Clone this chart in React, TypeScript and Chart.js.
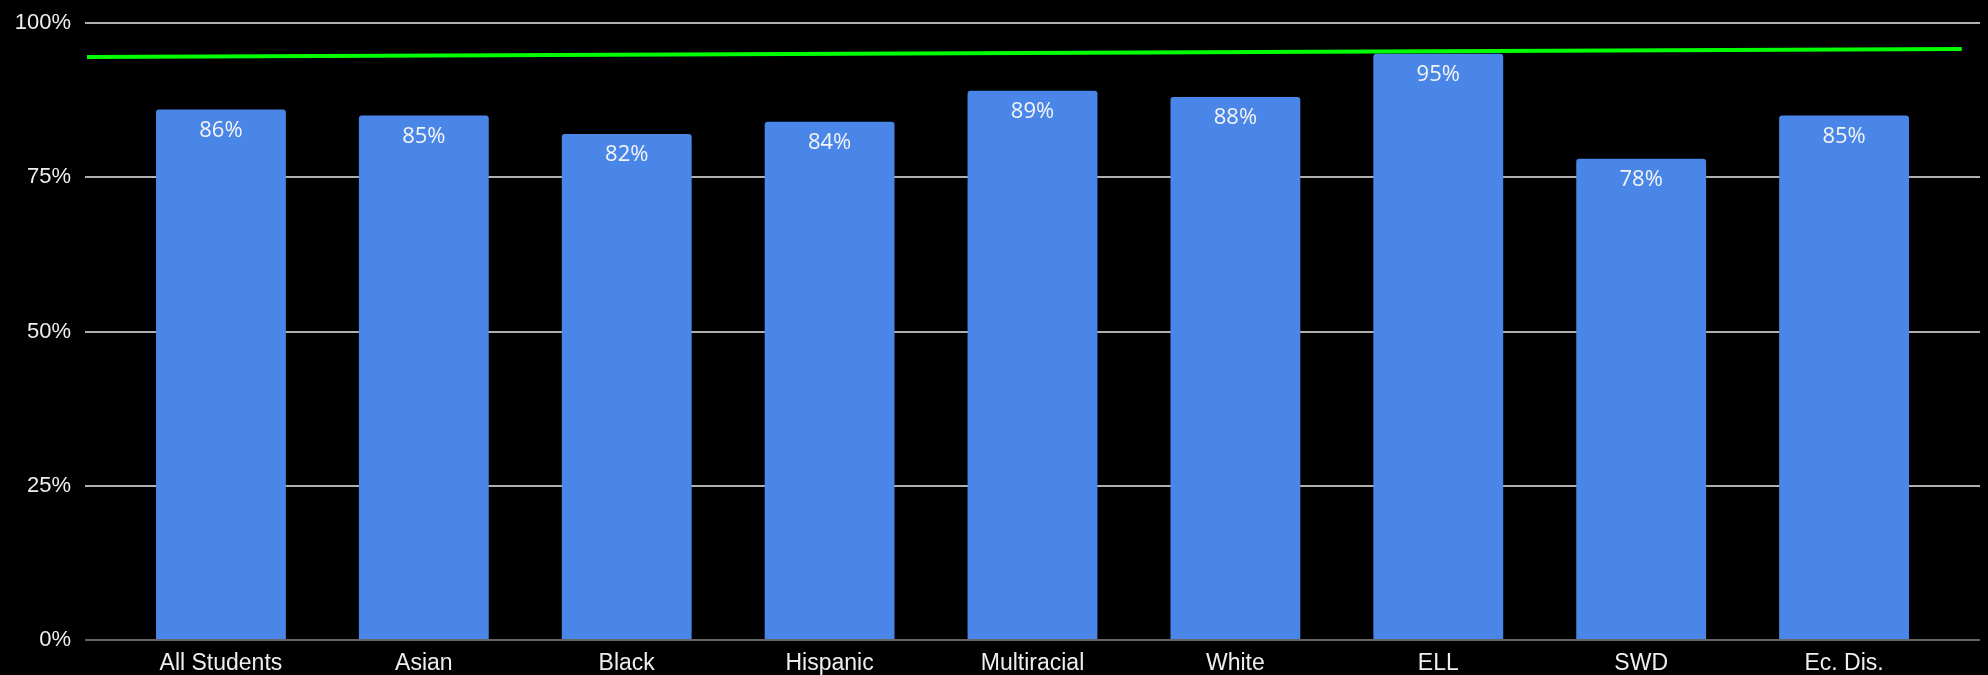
import React, { useEffect, useRef } from "react";
import { Chart, registerables } from "chart.js";

Chart.register(...registerables);

const categories = ["All Students", "Asian", "Black", "Hispanic", "Multiracial", "White", "ELL", "SWD", "Ec. Dis."];
const values = [86, 85, 82, 84, 89, 88, 95, 78, 85];
const targetX = [-0.66, 8.58];
const targetY = [94.5, 95.8];
const yTicks = [0, 25, 50, 75, 100];

const labelPlugin = {
  id: "barLabels",
  afterDatasetsDraw(chart: any) {
    const meta = chart.getDatasetMeta(1);
    const ctx = chart.ctx;
    ctx.save();
    ctx.fillStyle = "#f4f4f4";
    ctx.font = "22px 'Open Sans', Roboto, 'Liberation Sans', Arial, sans-serif";
    ctx.textAlign = "center";
    ctx.textBaseline = "middle";
    meta.data.forEach((bar: any, i: number) => {
      ctx.fillText(values[i] + "%", bar.x, bar.y + 21);
    });
    ctx.restore();
  },
};

export default function App() {
  const ref = useRef<HTMLCanvasElement>(null);
  useEffect(() => {
    if (!ref.current) return;
    const chart = new Chart(ref.current, {
      type: "bar",
      data: {
        datasets: [
          {
            type: "line",
            data: targetX.map((x, i) => ({ x, y: targetY[i] })),
            borderColor: "#00ff00",
            borderWidth: 4,
            pointRadius: 0,
            order: 0,
          } as any,
          {
            type: "bar",
            data: values.map((v, i) => ({ x: i, y: v })),
            backgroundColor: "#4a86e8",
            borderRadius: 3,
            borderSkipped: "bottom",
            categoryPercentage: 1,
            barPercentage: 0.64,
            order: 1,
          } as any,
        ],
      },
      options: {
        animation: false,
        responsive: false,
        maintainAspectRatio: false,
        layout: { padding: { top: 23, right: 8, left: 0, bottom: 0 } },
        plugins: { legend: { display: false }, tooltip: { enabled: false } },
        scales: {
          x: {
            type: "linear",
            offset: false,
            min: -0.67,
            max: 8.67,
            grid: { display: false, drawTicks: false, offset: false },
            border: { display: false },
            afterBuildTicks: (scale: any) => {
              scale.ticks = categories.map((_, i) => ({ value: i }));
            },
            afterFit: (scale: any) => {
              scale.height = 35;
            },
            ticks: {
              autoSkip: false,
              maxRotation: 0,
              padding: 10,
              color: "#eeeeee",
              font: { family: "'Liberation Sans', Arial, sans-serif", size: 23 },
              callback: (v: any) => categories[Math.round(Number(v))] ?? "",
            },
          },
          y: {
            min: 0,
            max: 100,
            afterBuildTicks: (scale: any) => {
              scale.ticks = yTicks.map((v) => ({ value: v }));
            },
            afterFit: (scale: any) => {
              scale.width = 85;
              scale.paddingTop = 12;
              scale.paddingBottom = 12;
            },
            grid: {
              drawTicks: false,
              lineWidth: 2,
              color: (c: any) => (c.tick && c.tick.value === 0 ? "#666666" : "#b0b0b0"),
            },
            border: { display: false },
            ticks: {
              padding: 14,
              color: "#eeeeee",
              font: { family: "'Liberation Sans', Arial, sans-serif", size: 22 },
              callback: (v: any) => v + "%",
            },
          },
        },
      },
      plugins: [labelPlugin],
    } as any);
    return () => chart.destroy();
  }, []);
  return (
    <div style={{ position: "fixed", left: 0, top: 0, width: 1988, height: 675, background: "#000" }}>
      <canvas ref={ref} width={1988} height={675} style={{ display: "block" }} />
    </div>
  );
}
